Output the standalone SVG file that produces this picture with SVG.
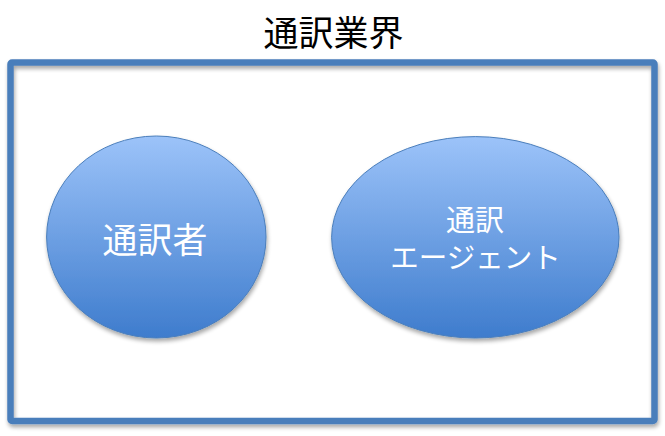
<svg xmlns="http://www.w3.org/2000/svg" width="665" height="436" viewBox="0 0 665 436">
<style>
.t{font-family:"Noto Sans CJK JP","Noto Sans CJK SC",sans-serif;text-anchor:middle}
.title{font-size:35px;fill:#000}
.lbl{fill:#fff}
.node{fill:url(#g);stroke:#4a7ebb;stroke-width:1}
</style>
<defs>
<linearGradient id="g" x1="0" y1="0" x2="0" y2="1">
<stop offset="0" stop-color="#9cc3f9"/>
<stop offset="1" stop-color="#3e7ccd"/>
</linearGradient>
<filter id="sh" x="-10%" y="-10%" width="120%" height="125%">
<feGaussianBlur in="SourceAlpha" stdDeviation="2"/>
<feOffset dx="1" dy="3" result="b"/>
<feComponentTransfer><feFuncA type="linear" slope="0.35"/></feComponentTransfer>
<feMerge><feMergeNode/><feMergeNode in="SourceGraphic"/></feMerge>
</filter>
</defs>
<rect width="665" height="436" fill="#fff"/>
<g id="title"><text class="t title" x="333.5" y="46">通訳業界</text></g>
<g id="industry"><rect x="10.5" y="62.5" width="644" height="358.5" rx="1.5" fill="none" stroke="#4a7ebb" stroke-width="6.5" filter="url(#sh)"/></g>
<g id="connectors"></g>
<g id="interpreter">
<ellipse class="node" cx="156.3" cy="237" rx="109.7" ry="101" filter="url(#sh)"/>
<text class="t lbl" x="155" y="253" font-size="35">通訳者</text>
</g>
<g id="agent">
<ellipse class="node" cx="475.3" cy="237.3" rx="143.7" ry="100.7" filter="url(#sh)"/>
<text class="t lbl" x="475" y="231" font-size="29">通訳</text>
<text class="t lbl" x="475.5" y="268" font-size="28.5">エージェント</text>
</g>
</svg>
